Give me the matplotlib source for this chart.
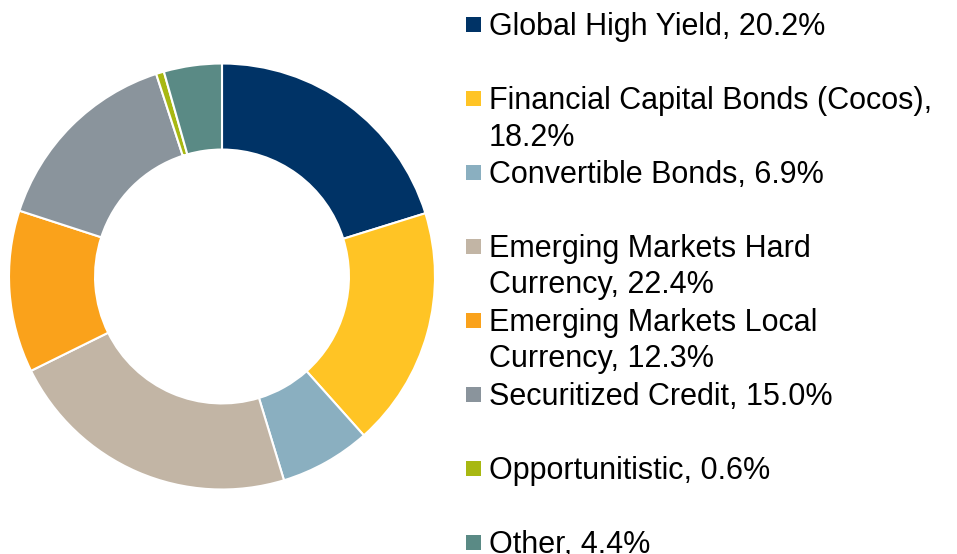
import matplotlib
matplotlib.use("Agg")
import matplotlib.pyplot as plt
from matplotlib.patches import Rectangle

plt.rcParams['font.family'] = ['Liberation Sans', 'DejaVu Sans']

labels = [
    "Global High Yield, 20.2%",
    "Financial Capital Bonds (Cocos),\n18.2%",
    "Convertible Bonds, 6.9%",
    "Emerging Markets Hard\nCurrency, 22.4%",
    "Emerging Markets Local\nCurrency, 12.3%",
    "Securitized Credit, 15.0%",
    "Opportunitistic, 0.6%",
    "Other, 4.4%",
]
shares = [20.2, 18.2, 6.9, 22.4, 12.3, 15.0, 0.6, 4.4]
colors = ["#003366", "#FFC425", "#8AAFC0", "#C2B5A5",
          "#FAA21B", "#8A949C", "#A8B812", "#5A8A85"]

W, H = 957, 554
fig = plt.figure(figsize=(W / 100, H / 100), dpi=100)

# donut
ax = fig.add_axes([9 / W, 64.5 / H, 426 / W, 426 / H])
ax.pie(shares, colors=colors, startangle=90, counterclock=False, radius=1,
       wedgeprops=dict(width=0.404, edgecolor="white", linewidth=1.5))
ax.set_xlim(-1, 1)
ax.set_ylim(-1, 1)
ax.set_aspect("equal")
ax.axis("off")

# legend drawn by hand
fs = 22
for i, (lab, col) in enumerate(zip(labels, colors)):
    base = 35 + 74 * i  # baseline of first line, pixels from top
    fig.patches.append(Rectangle((466 / W, 1 - (base - 3) / H), 15 / W, 15 / H,
                                 transform=fig.transFigure, facecolor=col,
                                 edgecolor="none"))
    for j, line in enumerate(lab.split("\n")):
        fig.text(489 / W, 1 - (base + 36.5 * j) / H, line, fontsize=fs,
                 va="baseline", ha="left", color="black")

fig.savefig("out.png", dpi=100)
